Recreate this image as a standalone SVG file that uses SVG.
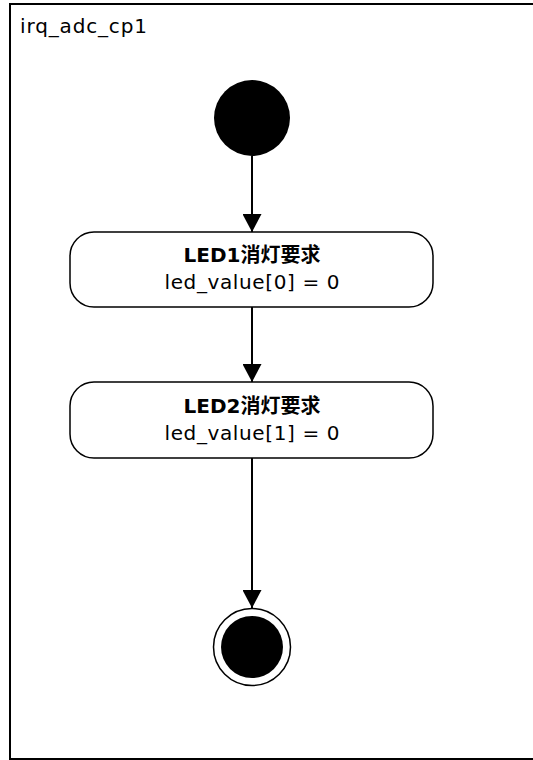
<svg xmlns="http://www.w3.org/2000/svg" width="533" height="760" viewBox="0 0 533 760">
<style>
text{font-family:"DejaVu Sans","Noto Sans CJK JP",sans-serif;font-size:20px;fill:#000}
.b{font-weight:bold}
.node{fill:#fff;stroke:#000;stroke-width:1.5}
.conn line{stroke:#000;stroke-width:2}
</style>
<defs>
<marker id="arr" viewBox="0 0 18 19" refX="18" refY="9.5" markerWidth="18" markerHeight="19" markerUnits="userSpaceOnUse" orient="auto">
<path d="M0,0 L18,9.5 L0,19 Z" fill="#000"/>
</marker>
</defs>
<rect width="533" height="760" fill="#fff"/>
<g id="frame">
<rect x="10" y="4" width="540" height="755" fill="#fff" stroke="#000" stroke-width="2"/>
<text x="20" y="33" textLength="127" lengthAdjust="spacing">irq_adc_cp1</text>
</g>
<g id="start">
<circle cx="252" cy="118" r="38" fill="#000"/>
</g>
<g id="led1">
<rect class="node" x="70" y="232" width="363" height="75" rx="24"/>
<text class="b" x="252" y="262" text-anchor="middle">LED1消灯要求</text>
<text x="252" y="289" text-anchor="middle" textLength="175" lengthAdjust="spacing">led_value[0] = 0</text>
</g>
<g id="led2">
<rect class="node" x="70" y="382" width="363" height="76" rx="24"/>
<text class="b" x="252" y="413" text-anchor="middle">LED2消灯要求</text>
<text x="252" y="440" text-anchor="middle" textLength="175" lengthAdjust="spacing">led_value[1] = 0</text>
</g>
<g id="end">
<circle cx="252" cy="647" r="38.5" fill="#fff" stroke="#000" stroke-width="1.5"/>
<circle cx="252" cy="647" r="31" fill="#000"/>
</g>
<g class="conn" id="connectors">
<line x1="252" y1="156" x2="252" y2="232" marker-end="url(#arr)"/>
<line x1="252" y1="307" x2="252" y2="382" marker-end="url(#arr)"/>
<line x1="252" y1="458" x2="252" y2="608" marker-end="url(#arr)"/>
</g>
</svg>
